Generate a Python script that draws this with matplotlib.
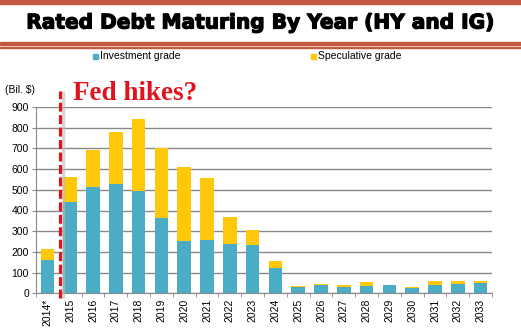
import matplotlib
matplotlib.use("Agg")
import matplotlib.pyplot as plt
import matplotlib.patheffects as pe
from matplotlib.patches import Rectangle
import numpy as np

# ---------------------------------------------------------
# Data (Bil. $)
# ---------------------------------------------------------
years = ["2014*", "2015", "2016", "2017", "2018", "2019", "2020", "2021", "2022", "2023",
         "2024", "2025", "2026", "2027", "2028", "2029", "2030", "2031", "2032", "2033"]
investment_grade = [160, 440, 515, 528, 495, 365, 253, 258, 238, 233,
                    122, 32, 42, 30, 35, 38, 27, 42, 46, 50]
speculative_grade = [55, 120, 177, 250, 345, 337, 357, 300, 132, 73,
                     35, 5, 3, 12, 18, 4, 3, 16, 15, 11]
yticks = [0, 100, 200, 300, 400, 500, 600, 700, 800, 900]
series_names = ["Investment grade", "Speculative grade"]

blue = "#4BACC6"
yellow = "#FFC80A"
band = "#C4573F"

plt.rcParams["font.family"] = ["Liberation Sans", "DejaVu Sans"]

fig = plt.figure(figsize=(5.21, 3.36), dpi=100)
W, H = 521, 336

# title band
fig.patches.append(Rectangle((0, 1 - 4 / H), 1, 4 / H, transform=fig.transFigure,
                             color=band, zorder=0))
fig.patches.append(Rectangle((0, 1 - 45 / H), 1, 3.5 / H, transform=fig.transFigure,
                             color=band, zorder=0))
fig.patches.append(Rectangle((0, 1 - 48 / H), 1, 1.2 / H, transform=fig.transFigure,
                             color=band, zorder=0))
fig.text(0.5, 1 - 23 / H, "Rated Debt Maturing By Year (HY and IG)",
         ha="center", va="center", fontsize=14.5, fontweight="bold", color="black",
         family=["DejaVu Sans"],
         path_effects=[pe.withStroke(linewidth=0.9, foreground="black")])

ax = fig.add_axes([36 / W, 1 - 293.3 / H, (492 - 36) / W, (293.3 - 107) / H])

x = np.arange(len(years))
ax.bar(x, investment_grade, width=0.6, color=blue, zorder=2)
ax.bar(x, speculative_grade, width=0.6, bottom=investment_grade, color=yellow, zorder=2)

ax.set_xlim(-0.5, len(years) - 0.5)
ax.set_ylim(0, 900)
ax.set_yticks(yticks)
ax.yaxis.grid(True, color="#8A8A8A", linewidth=1.0, zorder=0)
ax.set_axisbelow(True)
for s in ["top", "right"]:
    ax.spines[s].set_visible(False)
ax.spines["left"].set_color("#8A8A8A")
ax.spines["bottom"].set_color("#8A8A8A")
ax.tick_params(axis="y", labelsize=7.5, length=3, color="#8A8A8A", pad=2)
ax.set_xticks(x)
ax.set_xticklabels(years, rotation=90, fontsize=7.5)
ax.tick_params(axis="x", length=0, pad=4)
ax.set_xticks(np.arange(len(years) + 1) - 0.5, minor=True)
ax.tick_params(axis="x", which="minor", length=3, color="#8A8A8A")

fig.text(5 / W, 1 - 90 / H, "(Bil. $)", fontsize=7.5, va="center", ha="left")

# Fed hikes marker
ax.plot([0.69, 0.69], [-25, 975], color="#BBBBBB", linewidth=2.5, alpha=0.6,
        clip_on=False, zorder=3, solid_capstyle="butt")
ax.plot([0.55, 0.55], [-25, 975], color="#E0141E", linewidth=2.3,
        dashes=(2.8, 1.1), clip_on=False, zorder=4)
fig.text(73 / W, 1 - 93 / H, "Fed hikes?", fontsize=19.5, fontweight="bold",
         color="#E0141E", family=["Liberation Serif", "DejaVu Serif"],
         ha="left", va="center")

# legend (placed by hand to match the wide spacing)
for name, col, x0 in zip(series_names, [blue, yellow], [93, 311]):
    fig.patches.append(Rectangle((x0 / W, 1 - 58.5 / H), 5 / W, 5 / H,
                                 transform=fig.transFigure, color=col))
    fig.text((x0 + 7) / W, 1 - 56 / H, name, fontsize=7.5, va="center", ha="left")

fig.savefig("out.png", dpi=100)
